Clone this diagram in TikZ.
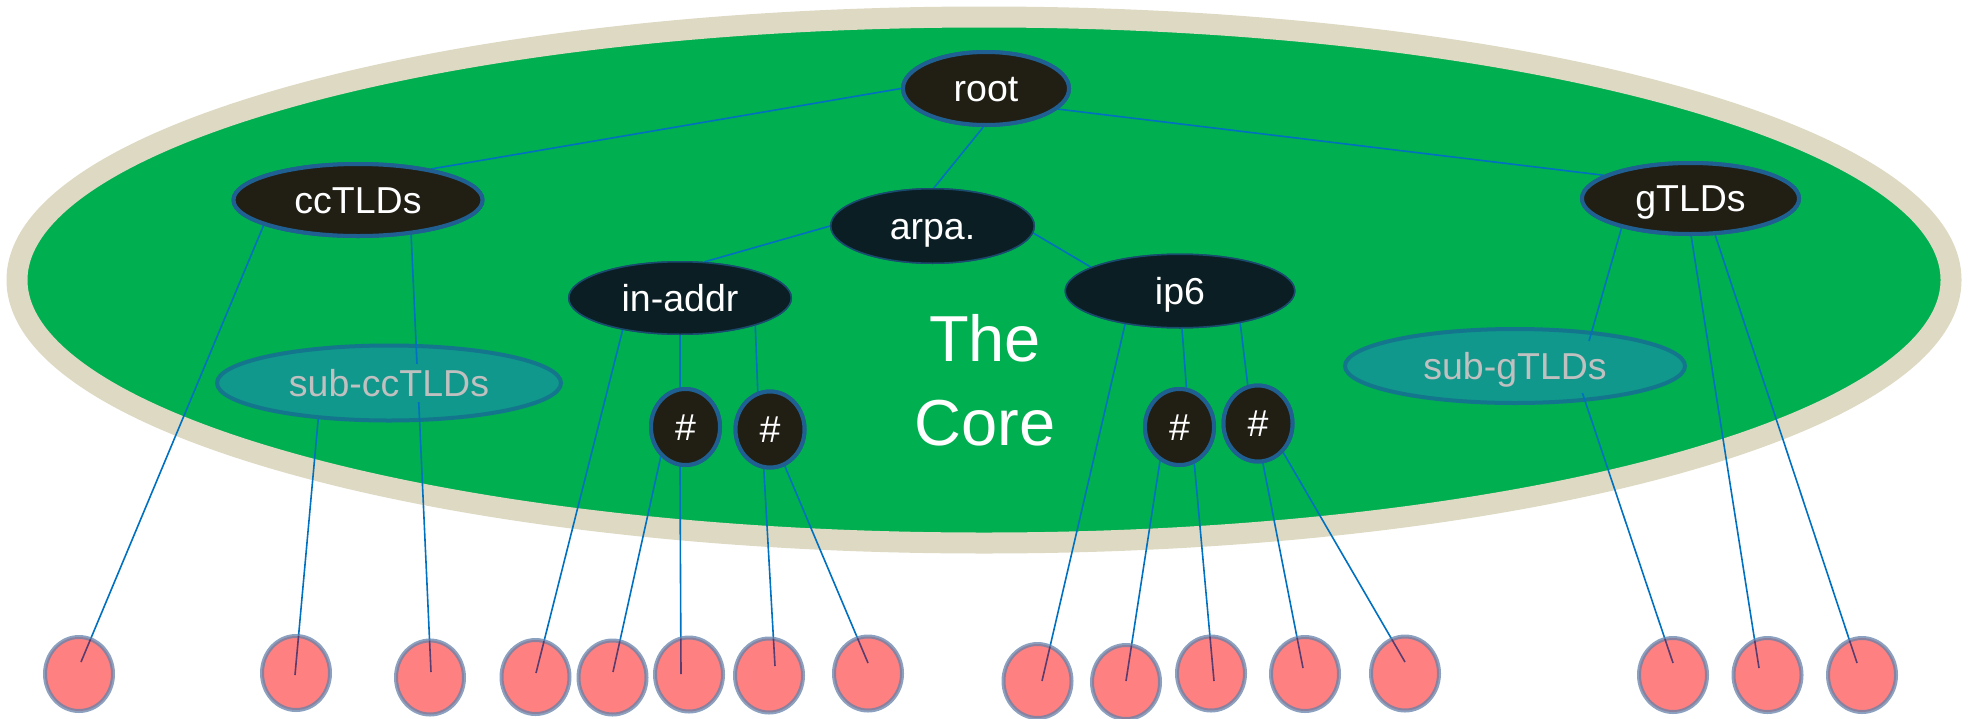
\documentclass[tikz,border=0pt]{standalone}
\usepackage{fontspec}
\setmainfont{Liberation Sans}
\usetikzlibrary{shapes.geometric,calc}

\definecolor{coregreen}{RGB}{0,175,80}
\definecolor{ringbeige}{RGB}{221,217,195}
\definecolor{nodedark}{RGB}{33,30,20}
\definecolor{nodeedge}{RGB}{31,95,146}
\definecolor{nodenavy}{RGB}{11,30,36}
\definecolor{navyedge}{RGB}{25,75,110}
\definecolor{subteal}{RGB}{16,152,140}
\definecolor{subedge}{RGB}{20,118,140}
\definecolor{subtext}{RGB}{192,192,192}
\definecolor{leafpink}{RGB}{255,128,128}
\definecolor{leafedge}{RGB}{100,130,170}
\definecolor{linkblue}{RGB}{0,112,192}
\definecolor{linkdeep}{RGB}{90,60,110}

\begin{document}
\begin{tikzpicture}[x=0.5pt,y=-0.5pt,
  every node/.style={font=\fontsize{18.75}{22}\selectfont},
  plain/.style={text height=13.4pt, text depth=0pt},
  topnode/.style={ellipse, fill=nodedark, draw=nodeedge, line width=2pt, text=white, inner sep=0pt},
  midnode/.style={ellipse, fill=nodenavy, draw=navyedge, line width=0.75pt, text=white, inner sep=0pt},
  hashnode/.style={ellipse, fill=nodedark, draw=nodeedge, line width=2pt, text=white,
    minimum width=34.5pt, minimum height=38pt, inner sep=0pt},
  subnode/.style={ellipse, fill=subteal, draw=subedge, line width=2pt, inner sep=0pt},
  sublabel/.style={fill=subteal, text=subtext, inner xsep=3pt, inner ysep=3pt, plain},
  leaf/.style={ellipse, fill=leafpink, draw=leafedge, draw opacity=0.75, line width=2pt,
    minimum width=34pt, minimum height=37pt, inner sep=0pt},
  conn/.style={draw=linkblue, line width=0.8pt},
  conninner/.style={draw=linkdeep, line width=0.8pt}]

\path[use as bounding box] (0,0) rectangle (1969,718);

% the core zone
\node[ellipse, draw=ringbeige, fill=coregreen, line width=10.5pt,
  minimum width=967pt, minimum height=263pt, inner sep=0pt] (core) at (984,280) {};
\node[text=white, font=\fontsize{32.5}{42}\selectfont, align=center] (coretext) at (985,380) {The\\Core};

% second-level zones
\node[subnode, minimum width=172pt, minimum height=37.5pt] (subcc) at (389,383) {};
\node[subnode, minimum width=170pt, minimum height=37pt] (subg) at (1515,366) {};
\coordinate (sgi) at ($(subg)+(74,-25)$);
\coordinate (sgo) at ($(subg)+(67,26)$);

% where the links end inside the leaves
\foreach \i/\x/\y in {1/81/662, 2/295/675, 3/431/672, 4/536/673, 5/613/672, 6/681/674,
  7/775/666, 8/868/663, 9/1042/681, 10/1126/681, 11/1214/681, 12/1303/668,
  13/1405/662, 14/1673/663, 15/1759/668, 16/1857/663}
  \coordinate (e\i) at (\x,\y);

% main nodes (placed first so that links can refer to them)
\path
  node[topnode, minimum width=83pt, minimum height=36.5pt] (root) at (986,88.5) {}
  node[topnode, minimum width=124.5pt, minimum height=36pt] (ccTLDs) at (358,200) {}
  node[topnode, minimum width=108.5pt, minimum height=35.5pt] (gTLDs) at (1690.5,198.5) {}
  node[midnode, minimum width=101.75pt, minimum height=37.25pt] (arpa) at (932.5,226) {}
  node[midnode, minimum width=111.25pt, minimum height=36.25pt] (inaddr) at (680,298) {}
  node[midnode, minimum width=114.75pt, minimum height=36.75pt] (ip6) at (1180,291) {}
  node[hashnode] (hA) at (685.5,427) {}
  node[hashnode] (hB) at (770,429.5) {}
  node[hashnode] (hC) at (1179.5,427) {}
  node[hashnode] (hD) at (1258,423.5) {};

\def\leafedges{ccTLDs.195/1, subcc.-153/2, ccTLDs.-33/3, inaddr.-151/4, hA.-130/5,
  hA.-98/6, hB.-99/7, hB.-68/8, ip6.-149/9, hC.-120/10, hC.-68/11, hD.-83/12,
  hD.-49/13, sgo/14, gTLDs.-89/15, gTLDs.-56/16}

% links inside the core
\draw[conn] (root.west) -- (ccTLDs.23);
\draw[conn] (root.-16) -- (gTLDs.165);
\draw[conn] (root.-94) -- (arpa.88);
\draw[conn] (arpa.west) -- (inaddr.56);
\draw[conn] (arpa.-4) -- (ip6.165);
\draw[conn] (inaddr.south) -- (hA.98);
\draw[conn] (inaddr.-20) -- (hB.108);
\draw[conn] (ip6.-87) -- (hC.80);
\draw[conn] (ip6.-28) -- (hD.105);
\draw[conn] (gTLDs.-157) -- (sgi);

% links down to the leaves
\foreach \s/\i in \leafedges
  \draw[conn] (\s) -- (e\i);

% redraw the main nodes on top of the links
\node[topnode, plain, minimum width=83pt, minimum height=36.5pt] at (root) {root};
\node[topnode, plain, minimum width=124.5pt, minimum height=36pt] at (ccTLDs) {ccTLDs};
\node[topnode, plain, minimum width=108.5pt, minimum height=35.5pt] at (gTLDs) {gTLDs};
\node[midnode, plain, minimum width=101.75pt, minimum height=37.25pt] at (arpa) {arpa.};
\node[midnode, plain, minimum width=111.25pt, minimum height=36.25pt] at (inaddr) {in-addr};
\node[midnode, plain, minimum width=114.75pt, minimum height=36.75pt] at (ip6) {ip6};
\foreach \h in {hA,hB,hC,hD}
  \node[hashnode, plain] at (\h) {\#};

% zone labels
\node[sublabel] (subccT) at (subcc) {sub-ccTLDs};
\node[sublabel, text depth=4pt, yshift=-2pt] (subgT) at (subg) {sub-gTLDs};

% leaves
\foreach \i/\x/\y in {1/79/674, 2/296/673, 3/430/677.5, 4/535.5/677, 5/612.5/677.5,
  6/689/674.5, 7/769/675.5, 8/868/673.5, 9/1037.5/681, 10/1126/682, 11/1211/673.5,
  12/1305/674, 13/1405/673.5, 14/1673/675, 15/1767.5/675, 16/1862/675}
  \node[leaf] (l\i) at (\x,\y) {};

% link ends seen through the leaves
\foreach \s/\i in \leafedges {
  \begin{scope}
    \clip (l\i.center) ellipse [x radius=17pt, y radius=18.5pt];
    \draw[conninner] (\s) -- (e\i);
  \end{scope}
}
\end{tikzpicture}
\end{document}
